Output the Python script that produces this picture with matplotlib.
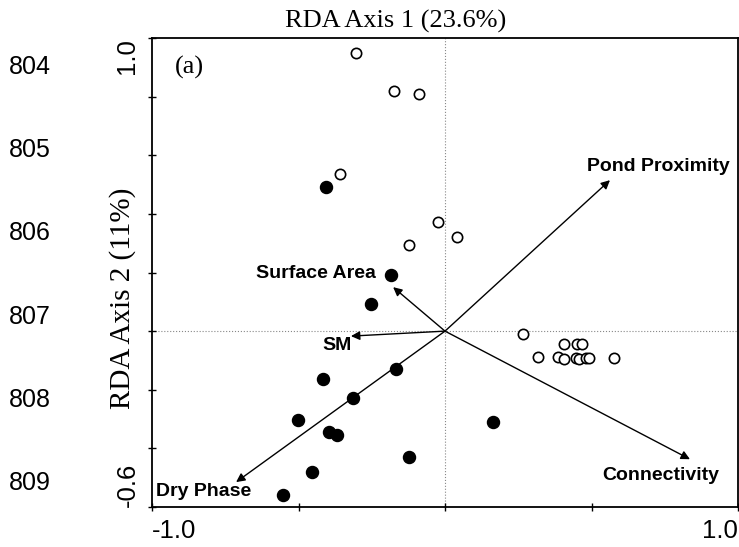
import matplotlib
matplotlib.use("Agg")
import matplotlib.pyplot as plt

# ---- data ----
open_x = [-0.304, -0.174, -0.089, -0.358, -0.024, 0.041, -0.123,
          0.266, 0.317, 0.386, 0.406, 0.406, 0.451, 0.468, 0.447, 0.457, 0.481, 0.491, 0.577]
open_y = [0.949, 0.819, 0.809, 0.536, 0.372, 0.321, 0.294,
          -0.010, -0.089, -0.089, -0.096, -0.044, -0.044, -0.044, -0.092, -0.096, -0.092, -0.092, -0.092]

filled_x = [-0.406, -0.184, -0.253, -0.416, -0.167, -0.314, -0.502, -0.396, -0.369, 0.164, -0.454, -0.123, -0.553]
filled_y = [0.491, 0.191, 0.092, -0.164, -0.130, -0.229, -0.304, -0.345, -0.355, -0.311, -0.481, -0.430, -0.560]

vectors = ["Pond Proximity", "Connectivity", "Surface Area", "SM", "Dry Phase"]
vec_x = [0.563, 0.836, -0.177, -0.321, -0.713]
vec_y = [0.515, -0.437, 0.150, -0.017, -0.515]

line_numbers = ["804", "805", "806", "807", "808", "809"]
title = "RDA Axis 1 (23.6%)"
ylabel = "RDA Axis 2 (11%)"
panel = "(a)"
xtick_vals = [-1.0, -0.5, 0.0, 0.5, 1.0]
xtick_labels = ["-1.0", "", "", "", "1.0"]
ytick_vals = [-0.6, -0.4, -0.2, 0.0, 0.2, 0.4, 0.6, 0.8, 1.0]
ytick_labels = ["-0.6", "", "", "", "", "", "", "", "1.0"]

# ---- layout ----
W, H = 739, 547
fig = plt.figure(figsize=(W / 100, H / 100), dpi=100)
L, R, T, B = 152, 738, 38, 507
ax = fig.add_axes([L / W, 1 - B / H, (R - L) / W, (B - T) / H])
ax.set_xlim(-1.0, 1.0)
ax.set_ylim(-0.6, 1.0)

ax.axhline(0, color="#888888", lw=0.8, ls=":", zorder=1)
ax.axvline(0, color="#888888", lw=0.8, ls=":", zorder=1)

for name, vx, vy in zip(vectors, vec_x, vec_y):
    ax.annotate("", xy=(vx, vy), xytext=(0, 0),
                arrowprops=dict(arrowstyle="-|>", color="black", lw=1.0,
                                mutation_scale=13, shrinkA=0, shrinkB=0),
                zorder=2)

ax.scatter(open_x, open_y, s=55, facecolors="white", edgecolors="black", linewidths=1.2, zorder=3)
ax.scatter(filled_x, filled_y, s=75, color="black", zorder=3)

lab_font = dict(family="Liberation Sans", fontsize=14, fontweight="bold", color="black")
label_pos = {
    "Pond Proximity": (0.727, 0.560, "center", "center"),
    "Connectivity": (0.737, -0.491, "center", "center"),
    "Surface Area": (-0.235, 0.195, "right", "center"),
    "SM": (-0.369, -0.048, "center", "center"),
    "Dry Phase": (-0.986, -0.546, "left", "center"),
}
for name in vectors:
    x, y, ha, va = label_pos[name]
    ax.text(x, y, name, ha=ha, va=va, **lab_font)

ax.text(0.039, 0.938, panel, transform=ax.transAxes, ha="left", va="center",
        family="Liberation Serif", fontsize=19)

ax.set_xticks(xtick_vals, xtick_labels)
ax.set_yticks(ytick_vals, ytick_labels)
ax.tick_params(axis="both", direction="inout", length=6, width=1.0, labelsize=18.5)
ax.tick_params(axis="x", pad=6)
ax.tick_params(axis="y", pad=6)
xl = ax.get_xticklabels()
xl[0].set_ha("left")
xl[-1].set_ha("right")
for t in ax.get_xticklabels() + ax.get_yticklabels():
    t.set_family("Liberation Sans")
yl = ax.get_yticklabels()
for t in yl:
    t.set_rotation(90)
yl[0].set_va("bottom")
yl[-1].set_va("top")

for s in ax.spines.values():
    s.set_linewidth(1.3)

fig.text(396 / W, 1 - 21 / H, title, ha="center", va="center",
         family="Liberation Serif", fontsize=19)
fig.text(123 / W, 1 - 298 / H, ylabel, ha="center", va="center", rotation=90,
         family="Liberation Serif", fontsize=21)

ln_y = [67, 150, 233, 317, 400, 483]
for lab, py in zip(line_numbers, ln_y):
    fig.text(30 / W, 1 - py / H, lab, ha="center", va="center",
             family="Liberation Sans", fontsize=18)

fig.savefig("out.png", dpi=100)
